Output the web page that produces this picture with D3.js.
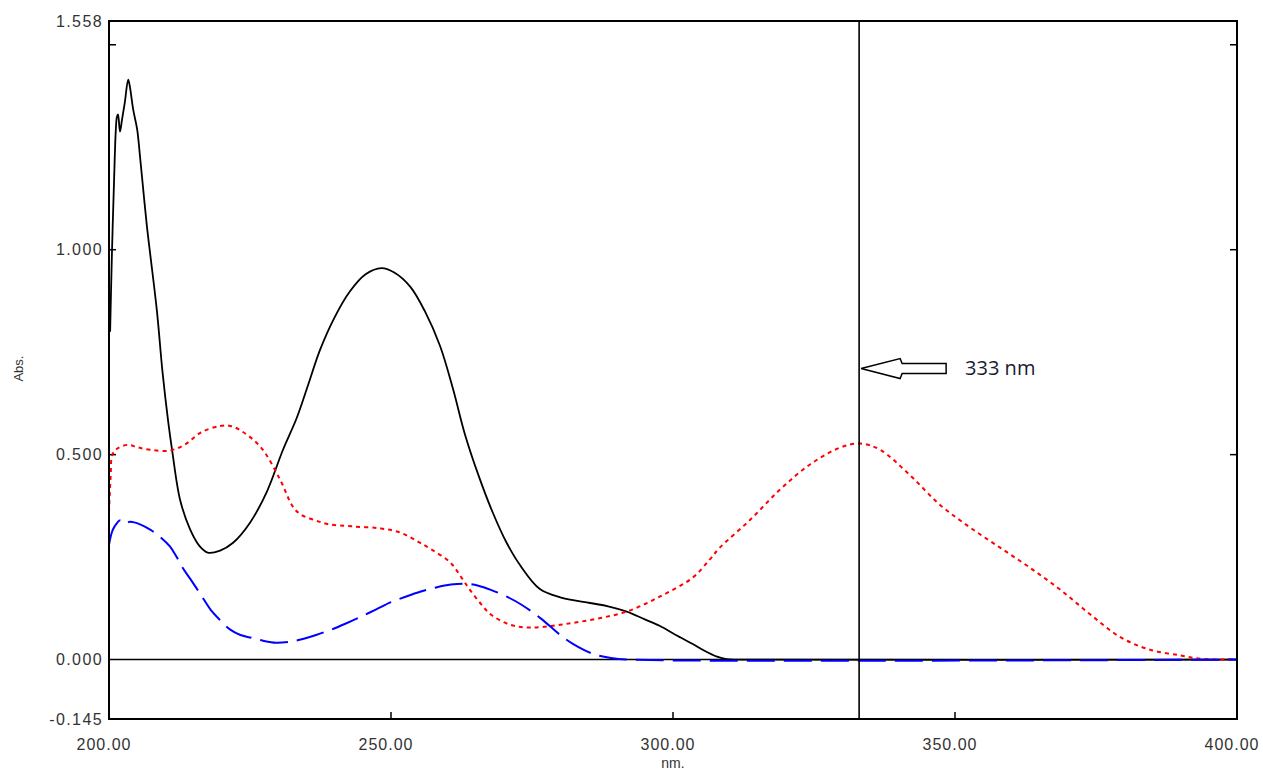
<!DOCTYPE html>
<html>
<head>
<meta charset="utf-8">
<script src="https://cdn.jsdelivr.net/npm/d3@7"></script>
<style>
    body { margin: 0; background: #fff; }
    svg { display: block; }
</style>
</head>
<body>
<svg id="svgc" width="1263" height="771"></svg>
<script>
/*global d3 */

//spectra, wavelength (nm) / absorbance
var blackWl = [200.2, 200.5, 200.9, 201.2, 201.4, 201.6, 201.95, 202.3, 202.8,
               203.4, 203.7, 204.3, 205.0, 205.5, 205.85, 206.7, 207.3, 208.5,
               209.5, 210.5, 211.2, 212.6, 214.4, 216.1, 217.5, 219.7, 222.0,
               225.0, 228.0, 230.85, 233.3, 235.3, 237.4, 240, 242.7, 245.5,
               248.3, 250.5, 253.4, 256, 258.7, 261, 263.1, 265.5, 268, 270.5,
               272.9, 276.4, 280, 285.3, 288.5, 291.8, 295, 297.7, 300.5, 303.5,
               305.5, 307.8, 309.5, 312, 400];
var blackAbs = [0.80, 0.98, 1.17, 1.29, 1.324, 1.33, 1.288, 1.317, 1.359,
                1.415, 1.398, 1.341, 1.293, 1.227, 1.178, 1.06, 0.99, 0.85,
                0.70, 0.58, 0.51, 0.39, 0.317, 0.276, 0.261, 0.266, 0.285,
                0.334, 0.41, 0.512, 0.59, 0.67, 0.755, 0.835, 0.898, 0.94,
                0.955, 0.945, 0.91, 0.85, 0.765, 0.66, 0.55, 0.45, 0.36, 0.285,
                0.23, 0.172, 0.152, 0.138, 0.13, 0.117, 0.098, 0.082, 0.06, 0.038,
                0.022, 0.007, 0.001, 0, 0];

var redWl = [200, 200.3, 200.6, 201.5, 203.4, 205, 207.3, 210.8, 213.5, 216.3,
             219.7, 221.5, 223.2, 226.8, 230.3, 232.6, 234, 236.5, 239, 243,
             248.2, 251.6, 254.5, 257, 260.5, 262.5, 264, 266, 267.7, 271.1,
             274.7, 280, 285.8, 291.8, 297.7, 303.5, 306.5, 308.3, 313.6, 319,
             324.3, 329.6, 333.2, 336.7, 342, 347.3, 352.7, 358, 363.3, 368.7,
             374, 379.4, 384.6, 390, 393.5, 397, 400];
var redAbs = [0.36, 0.45, 0.50, 0.515, 0.524, 0.518, 0.512, 0.51, 0.525, 0.554,
              0.57, 0.57, 0.56, 0.52, 0.44, 0.373, 0.354, 0.34, 0.33, 0.325,
              0.32, 0.31, 0.29, 0.27, 0.237, 0.2, 0.17, 0.135, 0.11, 0.085,
              0.078, 0.085, 0.098, 0.117, 0.154, 0.2, 0.244, 0.273, 0.34, 0.415,
              0.476, 0.517, 0.527, 0.512, 0.45, 0.378, 0.322, 0.273, 0.224, 0.17,
              0.11, 0.054, 0.024, 0.01, 0.002, 0, 0];

var blueWl = [200, 200.5, 201, 202, 202.8, 203.7, 205.5, 207.3, 209, 210.8,
              212, 213, 214.5, 216.2, 218, 219.8, 221.5, 223.3, 225, 227.3,
              229.6, 231.8, 234, 236.7, 239.4, 242, 244.7, 247.3, 250, 252.7,
              255.3, 258, 260.6, 263.3, 265.5, 267.7, 270.3, 273, 276.6, 280,
              282.4, 285.8, 289, 292, 400];
var blueAbs = [0.28, 0.31, 0.325, 0.34, 0.332, 0.336, 0.33, 0.317, 0.30, 0.276,
               0.25, 0.225, 0.195, 0.16, 0.122, 0.095, 0.073, 0.06, 0.054, 0.046,
               0.041, 0.043, 0.049, 0.06, 0.073, 0.088, 0.105, 0.122, 0.14, 0.154,
               0.166, 0.176, 0.183, 0.185, 0.18, 0.17, 0.155, 0.135, 0.1, 0.06,
               0.037, 0.014, 0.004, 0, 0];

var xTicks = [200, 250, 300, 350, 400];
var xTickLabels = ["200.00", "250.00", "300.00", "350.00", "400.00"];
var yTicks = [0.5, 1.0, 1.5];
var yLabelVals = [1.558, 1.000, 0.500, 0.000, -0.145];
var yTickLabels = ["1.558", "1.000", "0.500", "0.000", "-0.145"];

var markerWl = 333;
var markerAbs = 0.71;
var markerText = "333 nm";


(function () {
    "use strict";

    var svg = d3.select("#svgc"),
        pl = {left: 109, right: 1237, top: 21, bottom: 719},
        x = d3.scaleLinear().domain([200, 400]).range([pl.left, pl.right]),
        y = d3.scaleLinear().domain([-0.145, 1.558]).range([pl.bottom, pl.top]),
        tickfont = "'Liberation Sans', Arial, sans-serif";


    function zipSeries (wl, ab) {
        return wl.map(function (w, i) { return {w: w, a: ab[i]}; });
    }


    function drawSeries (pts, color, dash, width) {
        var line = d3.line()
            .x(function (d) { return x(d.w); })
            .y(function (d) { return y(d.a); })
            .curve(d3.curveCatmullRom.alpha(0.5));
        svg.append("path")
            .datum(pts)
            .attr("d", line)
            .attr("fill", "none")
            .attr("stroke", color)
            .attr("stroke-width", width)
            .attr("stroke-dasharray", dash || null)
            .attr("stroke-linejoin", "round");
    }


    function drawAxes () {
        //zero baseline
        svg.append("line")
            .attr("x1", pl.left).attr("x2", pl.right)
            .attr("y1", y(0)).attr("y2", y(0))
            .attr("stroke", "#000").attr("stroke-width", 1.6);
        //inward ticks, left and right
        yTicks.forEach(function (v) {
            svg.append("line")
                .attr("x1", pl.left).attr("x2", pl.left + 7)
                .attr("y1", y(v)).attr("y2", y(v))
                .attr("stroke", "#000").attr("stroke-width", 1.5);
            svg.append("line")
                .attr("x1", pl.right - 7).attr("x2", pl.right)
                .attr("y1", y(v)).attr("y2", y(v))
                .attr("stroke", "#000").attr("stroke-width", 1.5);
        });
        //bottom ticks (inner ones only)
        xTicks.slice(1, -1).forEach(function (v) {
            svg.append("line")
                .attr("x1", x(v)).attr("x2", x(v))
                .attr("y1", pl.bottom).attr("y2", pl.bottom - 7)
                .attr("stroke", "#000").attr("stroke-width", 1.5);
        });
        svg.selectAll("text.ylab")
            .data(yLabelVals)
            .enter().append("text")
            .attr("class", "ylab")
            .attr("x", pl.left - 6)
            .attr("y", function (d) { return y(d); })
            .attr("dy", "0.36em")
            .attr("text-anchor", "end")
            .attr("font-family", tickfont)
            .attr("font-size", 16)
            .attr("letter-spacing", "1.4px")
            .attr("fill", "#333")
            .text(function (d, i) { return yTickLabels[i]; });
        //labels sit a few px left of their tick, as in the scan
        svg.selectAll("text.xlab")
            .data(xTicks)
            .enter().append("text")
            .attr("class", "xlab")
            .attr("x", function (d) { return x(d) - 5; })
            .attr("y", pl.bottom + 31)
            .attr("text-anchor", "middle")
            .attr("font-family", tickfont)
            .attr("font-size", 16)
            .attr("letter-spacing", "1px")
            .attr("fill", "#333")
            .text(function (d, i) { return xTickLabels[i]; });
        svg.append("text")
            .attr("x", x(300))
            .attr("y", 768)
            .attr("text-anchor", "middle")
            .attr("font-family", tickfont)
            .attr("font-size", 14)
            .attr("fill", "#333")
            .text("nm.");
        svg.append("text")
            .attr("transform", "translate(23," + y(0.71) + ") rotate(-90)")
            .attr("text-anchor", "middle")
            .attr("font-family", tickfont)
            .attr("font-size", 13)
            .attr("fill", "#333")
            .text("Abs.");
    }


    function drawMarker () {
        var mx = x(markerWl), my = y(markerAbs), pts;
        svg.append("line")
            .attr("x1", mx).attr("x2", mx)
            .attr("y1", pl.top).attr("y2", pl.bottom)
            .attr("stroke", "#000").attr("stroke-width", 1.6);
        //arrow pointing at the marker line
        pts = [[2, 0], [41, -10], [43, -5], [87, -5], [87, 5], [43, 5],
               [41, 10]];
        svg.append("polygon")
            .attr("points", pts.map(function (p) {
                return (mx + p[0]) + "," + (my + p[1]); }).join(" "))
            .attr("fill", "#fff")
            .attr("stroke", "#000")
            .attr("stroke-width", 1.5);
        svg.append("text")
            .attr("x", mx + 106)
            .attr("y", my + 6)
            .attr("font-family", "'Open Sans', sans-serif")
            .attr("font-size", 20)
            .attr("fill", "#1a1a2e")
            .text(markerText);
    }


    function drawFrame () {
        svg.append("rect")
            .attr("x", pl.left).attr("y", pl.top)
            .attr("width", pl.right - pl.left)
            .attr("height", pl.bottom - pl.top)
            .attr("fill", "none")
            .attr("stroke", "#000")
            .attr("stroke-width", 2);
    }


    drawAxes();
    drawSeries(zipSeries(blackWl, blackAbs), "#000", null, 1.8);
    drawSeries(zipSeries(redWl, redAbs), "#ff0000", "4,4", 2);
    drawSeries(zipSeries(blueWl, blueAbs), "#0000ff", "28,9", 2);
    drawMarker();
    drawFrame();
}());
</script>
</body>
</html>
